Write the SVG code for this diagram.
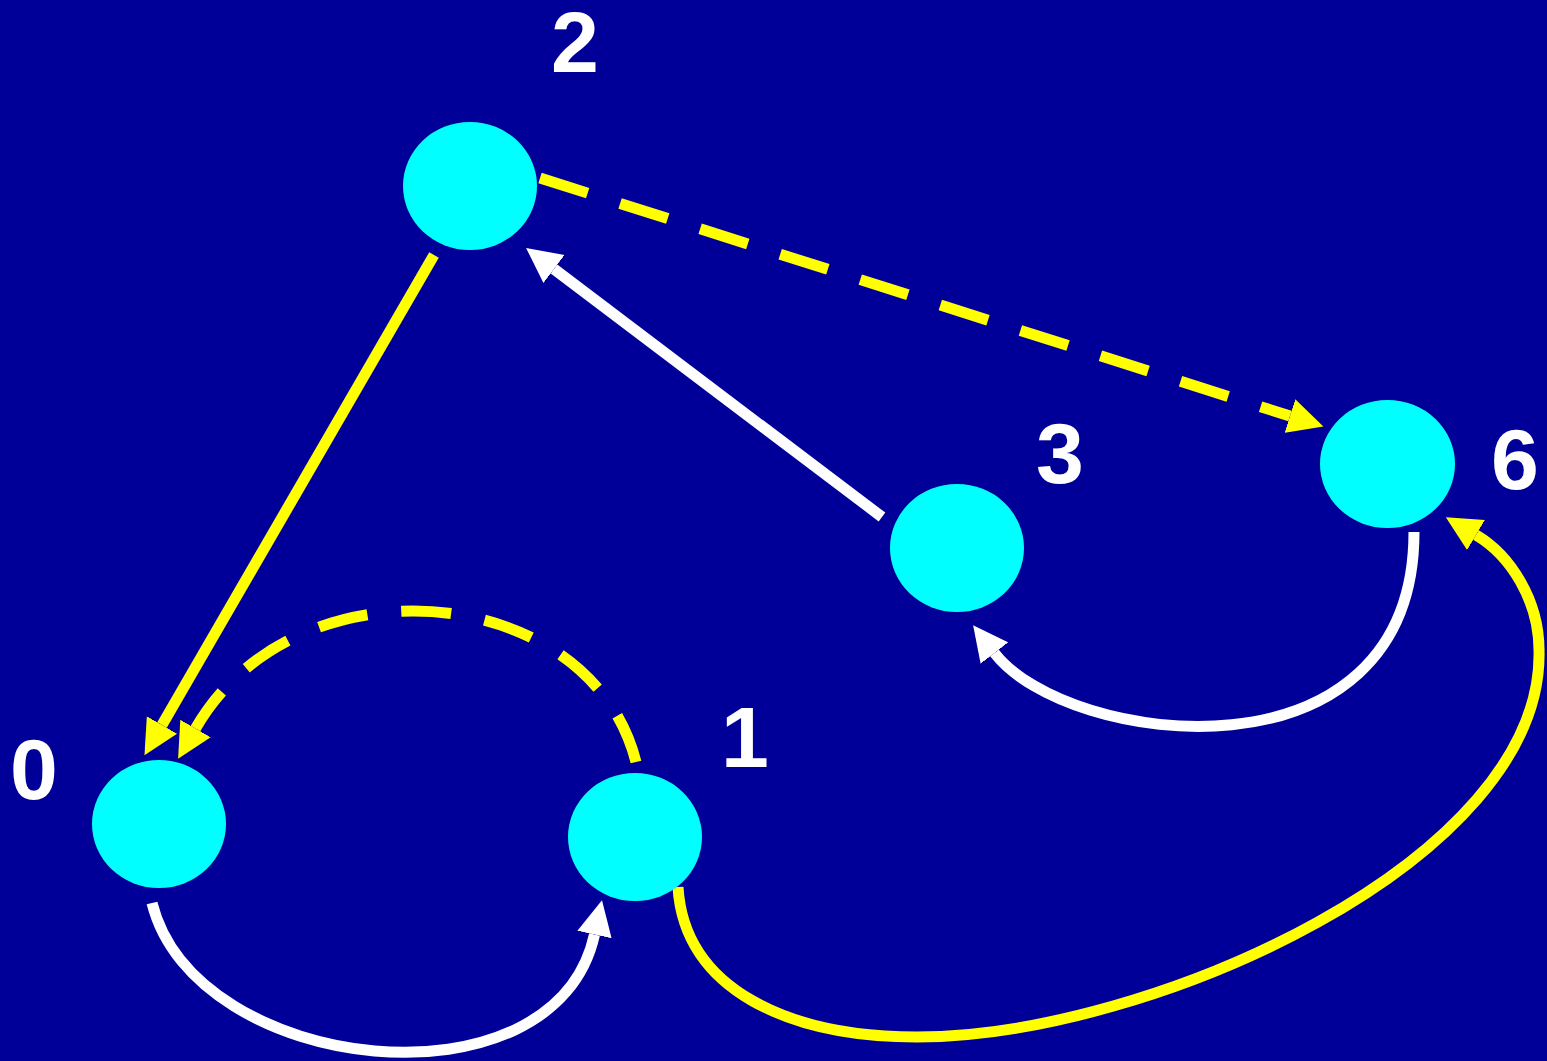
<svg xmlns="http://www.w3.org/2000/svg" width="1547" height="1061" viewBox="0 0 1547 1061">
<style>
.node{fill:#00ffff;stroke:none}
.lbl{font-family:"Liberation Sans",Arial,sans-serif;font-weight:bold;font-size:86px;fill:#ffffff;text-anchor:middle}
.edge{fill:none;stroke-width:11;stroke-linecap:butt}
.y{stroke:#ffff00;marker-end:url(#ay)}
.w{stroke:#ffffff;marker-end:url(#aw)}
.dash{stroke-dasharray:50 34}
</style>
<defs>
<marker id="ay" markerUnits="userSpaceOnUse" markerWidth="36" markerHeight="36" viewBox="0 0 36 36" refX="0" refY="18" orient="auto"><path d="M0,0.5 L35,18 L0,35.5 z" fill="#ffff00"/></marker>
<marker id="aw" markerUnits="userSpaceOnUse" markerWidth="36" markerHeight="36" viewBox="0 0 36 36" refX="0" refY="18" orient="auto"><path d="M0,0.5 L35,18 L0,35.5 z" fill="#ffffff"/></marker>
</defs>
<rect x="0" y="0" width="1547" height="1061" fill="#000099"/>
<g id="edges">
<path id="e2-0" class="edge y" d="M434,255 L162,725"/>
<path id="e2-6" class="edge y dash" d="M540,178 L1290,416"/>
<path id="e3-2" class="edge w" d="M882,517 L554,269"/>
<path id="e1-0" class="edge y dash" d="M636,762 C590,580 295,555 195.5,728.5"/>
<path id="e0-1" class="edge w" d="M152,903 C195,1075 555,1115 594.5,934.5"/>
<path id="e6-3" class="edge w" d="M1414,532 C1414,790 1067.7,747.8 994.5,653"/>
<path id="e1-6" class="edge y" d="M678,887 C684,990 790,1037 917,1037 C1150,1037 1545,860 1539,650 C1539,600 1510,555 1476,535"/>
</g>
<g id="node0"><ellipse class="node" cx="159" cy="824" rx="67" ry="64"/><text class="lbl" x="34" y="799">0</text></g>
<g id="node1"><ellipse class="node" cx="635" cy="837" rx="67" ry="64"/><text class="lbl" x="745" y="767">1</text></g>
<g id="node2"><ellipse class="node" cx="470" cy="186" rx="67" ry="64"/><text class="lbl" x="575" y="72">2</text></g>
<g id="node3"><ellipse class="node" cx="957" cy="548" rx="67" ry="64"/><text class="lbl" x="1060" y="483">3</text></g>
<g id="node6"><ellipse class="node" cx="1387.5" cy="464" rx="67.5" ry="64"/><text class="lbl" x="1515" y="489">6</text></g>
</svg>
